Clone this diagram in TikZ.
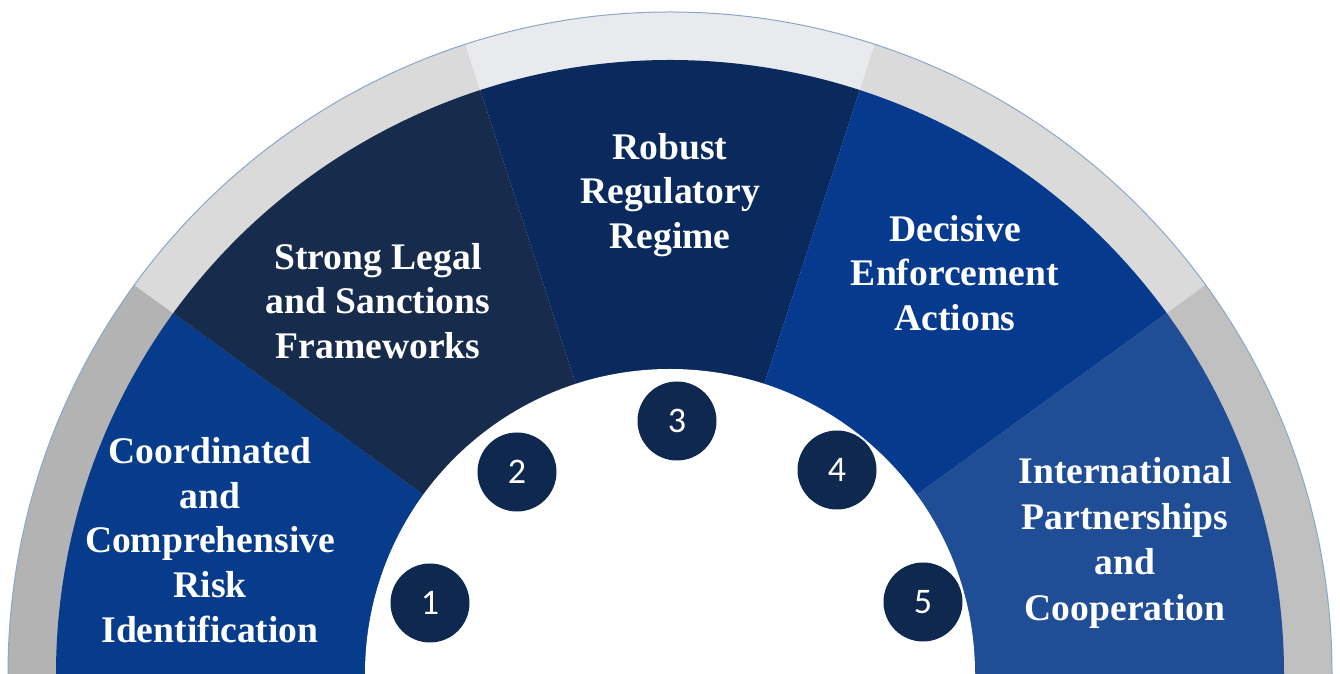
\documentclass[tikz,border=0pt]{standalone}
\usepackage{fontspec}
\setmainfont{Liberation Serif}
\newfontfamily\numfont{Carlito}
\definecolor{gA}{HTML}{B3B3B3}
\definecolor{gB}{HTML}{DADADA}
\definecolor{gC}{HTML}{E8EAED}
\definecolor{gD}{HTML}{DADADA}
\definecolor{gE}{HTML}{C0C0C0}
\definecolor{bA}{HTML}{073B8C}
\definecolor{bB}{HTML}{172B4C}
\definecolor{bC}{HTML}{0A2A5E}
\definecolor{bD}{HTML}{053A8F}
\definecolor{bE}{HTML}{1F4E96}
\definecolor{numcol}{HTML}{0F2850}
\definecolor{rimcol}{HTML}{8EA6C6}
\tikzset{
  label text/.style={text=white, align=center, font=\fontsize{18.8}{22.4}\selectfont\bfseries},
  num disc/.style={circle, fill=numcol, minimum size=39.5pt, inner sep=0pt, text=white, font=\numfont\fontsize{18}{20}\selectfont}
}
\begin{document}
\begin{tikzpicture}[x=0.5pt,y=0.5pt]
\useasboundingbox (0,0) rectangle (1340,674);
\coordinate (O) at (670,0);
% outer gray ring sectors
\foreach \a/\c in {180/gA,144/gB,108/gC,72/gD,36/gE}{
  \fill[\c] (O) -- ++(\a:662) arc[start angle=\a,end angle=\a-36,radius=662] -- cycle;
}
\draw[rimcol, line width=0.5pt] ([shift={(180:662)}]O) arc[start angle=180,end angle=0,radius=662];
% blue sectors
\foreach \a/\c in {180/bA,144/bB,108/bC,72/bD,36/bE}{
  \fill[\c] (O) -- ++(\a:614) arc[start angle=\a,end angle=\a-36,radius=614] -- cycle;
}
% inner white disc
\fill[white] ([shift={(180:305)}]O) arc[start angle=180,end angle=0,radius=305] -- cycle;
% labels
\node[label text] (t1) at (210,134) {Coordinated\\and\\Comprehensive\\Risk\\Identification};
\node[label text] (t2) at (378,373) {Strong Legal\\and Sanctions\\Frameworks};
\node[label text] (t3) at (670,479) {Robust\\Regulatory\\Regime};
\node[label text] (t4) at (955,401) {Decisive\\Enforcement\\Actions};
\node[label text, font=\fontsize{18.8}{22.7}\selectfont\bfseries] (t5) at (1125,131) {International\\Partnerships\\and\\Cooperation};
% numbers
\node[num disc] (n1) at (430,71) {1};
\node[num disc] (n2) at (517,202) {2};
\node[num disc] (n3) at (677,253) {3};
\node[num disc] (n4) at (837,204) {4};
\node[num disc] (n5) at (923,72) {5};
\end{tikzpicture}
\end{document}
